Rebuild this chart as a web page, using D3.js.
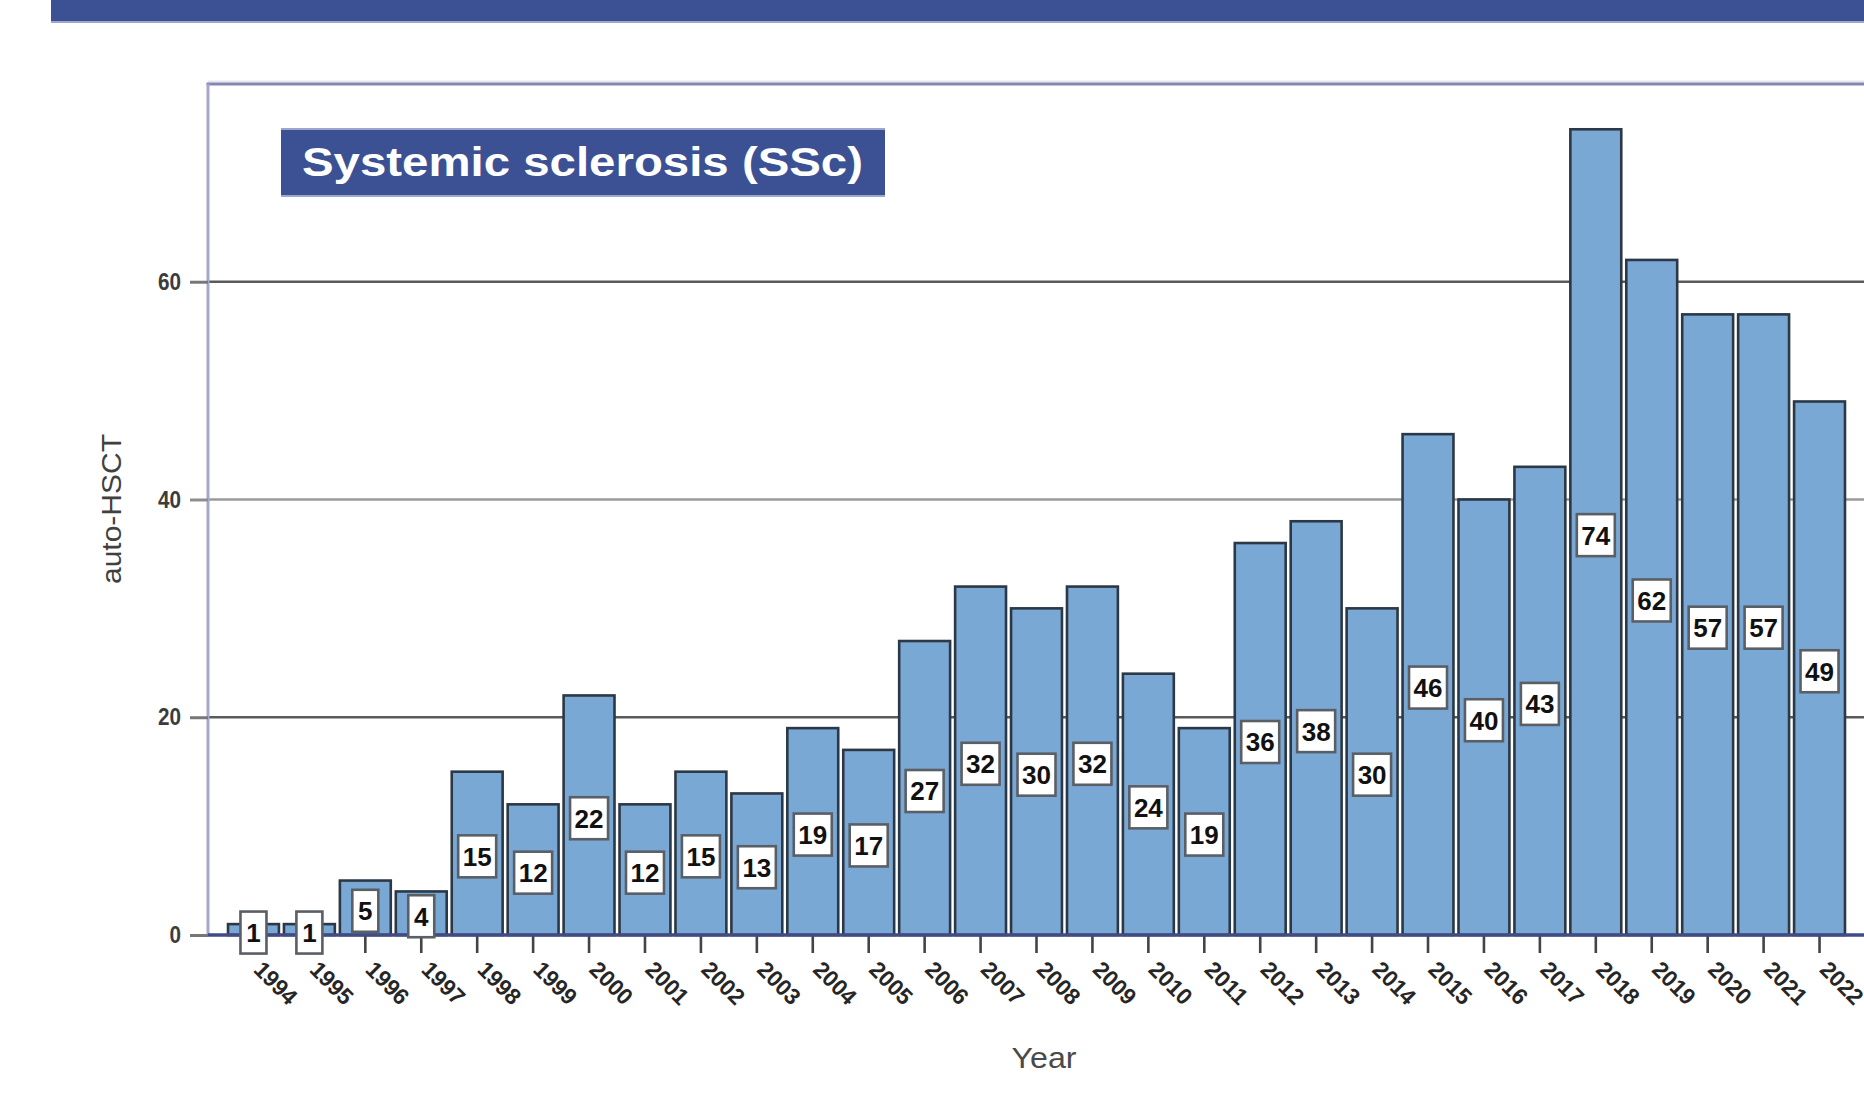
<!DOCTYPE html>
<html>
<head>
<meta charset="utf-8">
<script src="https://cdn.jsdelivr.net/npm/d3@7"></script>
<style>
  html, body { margin: 0; padding: 0; background: #ffffff; }
  svg { display: block; }
  text { font-family: "Liberation Sans", Arial, sans-serif; }
</style>
</head>
<body>
<svg id="chartSVG" width="1864" height="1097"></svg>
<script>
var years = ['1994', '1995', '1996', '1997', '1998', '1999', '2000', '2001', '2002', '2003',
  '2004', '2005', '2006', '2007', '2008', '2009', '2010', '2011', '2012', '2013',
  '2014', '2015', '2016', '2017', '2018', '2019', '2020', '2021', '2022'];
var counts = [1, 1, 5, 4, 15, 12, 22, 12, 15, 13, 19, 17, 27, 32, 30, 32, 24, 19, 36, 38,
  30, 46, 40, 43, 74, 62, 57, 57, 49];
var yTicks = [0, 20, 40, 60];
var chartTitle = 'Systemic sclerosis (SSc)';
var yTitle = 'auto-HSCT';
var xTitle = 'Year';

var data = years.map(function(d, i) { return { key: d, value: counts[i] }; });

var svg = d3.select("#chartSVG");
var width = 1864;

// frame of the plot
var frame = { left: 208, top: 84, bottom: 935 };

var xScale = d3.scaleBand()
  .domain(years)
  .range([225.5, 1847.5])
  .paddingInner(0.09)
  .paddingOuter(0.045);

var yScale = d3.scaleLinear()
  .domain([0, 80])
  .range([frame.bottom, frame.bottom - 80 * 10.888]);

// top banner
svg.append("rect")
  .attr("x", 51).attr("y", 0)
  .attr("width", width - 51).attr("height", 23)
  .attr("fill", "#9ea7cb");
svg.append("rect")
  .attr("x", 51).attr("y", 0)
  .attr("width", width - 51).attr("height", 21)
  .attr("fill", "#3b5194");

// gridlines
svg.append("g")
  .selectAll("line")
  .data(yTicks.filter(function(d) { return d > 0; }))
  .enter()
  .append("line")
  .attr("x1", frame.left).attr("x2", width)
  .attr("y1", function(d) { return yScale(d); })
  .attr("y2", function(d) { return yScale(d); })
  .attr("stroke", function(d) { return d === 40 ? "#9a9a9a" : "#5a5a5a"; })
  .attr("stroke-width", 2.6);

// frame lines
svg.append("line")
  .attr("x1", frame.left).attr("x2", width)
  .attr("y1", frame.top - 2.5).attr("y2", frame.top - 2.5)
  .attr("stroke", "#e6e6ef").attr("stroke-width", 2);
svg.append("line")
  .attr("x1", frame.left - 1.5).attr("x2", width)
  .attr("y1", frame.top).attr("y2", frame.top)
  .attr("stroke", "#8785b3").attr("stroke-width", 3);
svg.append("line")
  .attr("x1", frame.left).attr("x2", frame.left)
  .attr("y1", frame.top).attr("y2", frame.bottom)
  .attr("stroke", "#a5a7cc").attr("stroke-width", 3);

// y axis
var yAxis = d3.axisLeft(yScale)
  .tickValues(yTicks)
  .tickSize(18)
  .tickPadding(9);

var yAxisG = svg.append("g")
  .attr("transform", translate(frame.left, 0))
  .call(yAxis);
yAxisG.select(".domain").remove();
yAxisG.selectAll(".tick line")
  .attr("stroke", function(d) { return d === 40 ? "#8d8d8d" : "#777777"; })
  .attr("stroke-width", 3);
yAxisG.selectAll(".tick text")
  .attr("font-size", 24)
  .attr("font-weight", "bold")
  .attr("fill", "#3c3c3c")
  .attr("textLength", function(d) { return String(d).length * 11.5; })
  .attr("lengthAdjust", "spacingAndGlyphs");

// title box
var titleG = svg.append("g");
titleG.append("rect")
  .attr("x", 281).attr("y", 128)
  .attr("width", 604).attr("height", 69)
  .attr("fill", "#9ea7cb");
titleG.append("rect")
  .attr("x", 281).attr("y", 130)
  .attr("width", 604).attr("height", 65)
  .attr("fill", "#3b5194");
titleG.append("text")
  .attr("x", 302).attr("y", 176)
  .attr("font-size", 41)
  .attr("font-weight", "bold")
  .attr("font-family", "'Open Sans', 'DejaVu Sans', sans-serif")
  .attr("fill", "#ffffff")
  .attr("textLength", 561)
  .attr("lengthAdjust", "spacingAndGlyphs")
  .text(chartTitle);

// bars
var plot = svg.append("g");
plot.selectAll(".bar")
  .data(data, function(d) { return d.key; })
  .enter()
  .append("rect")
  .attr("class", "bar")
  .attr("x", function(d) { return xScale(d.key); })
  .attr("width", xScale.bandwidth())
  .attr("y", function(d) { return yScale(d.value); })
  .attr("height", function(d) { return frame.bottom - yScale(d.value); })
  .attr("fill", "#7aa8d5")
  .attr("stroke", "#2c3845")
  .attr("stroke-width", 2.6);

// x axis
var xAxis = d3.axisBottom(xScale)
  .tickSize(18)
  .tickFormat("");
var xAxisG = svg.append("g")
  .attr("transform", translate(0, frame.bottom))
  .call(xAxis);
xAxisG.select(".domain").remove();
xAxisG.selectAll(".tick line")
  .attr("stroke", "#444444")
  .attr("stroke-width", 2.6);

svg.append("line")
  .attr("x1", frame.left).attr("x2", width)
  .attr("y1", frame.bottom).attr("y2", frame.bottom)
  .attr("stroke", "#414b84")
  .attr("stroke-width", 3.5);

// year labels
svg.append("g")
  .selectAll("text")
  .data(years)
  .enter()
  .append("text")
  .attr("transform", function(d) {
    return translate(xScale(d) + xScale.bandwidth() / 2 - 1, 971) + " rotate(45)";
  })
  .attr("font-size", 23)
  .attr("font-weight", "bold")
  .attr("fill", "#262626")
  .attr("text-anchor", "start")
  .attr("textLength", 50)
  .attr("lengthAdjust", "spacingAndGlyphs")
  .text(function(d) { return d; });

// value labels
var labels = svg.append("g")
  .selectAll("g")
  .data(data)
  .enter()
  .append("g")
  .attr("transform", function(d) {
    return translate(xScale(d.key) + xScale.bandwidth() / 2, yScale(d.value / 2) + 3);
  });

labels.append("rect")
  .attr("x", function(d) { return String(d.value).length > 1 ? -19 : -13; })
  .attr("y", -21)
  .attr("width", function(d) { return String(d.value).length > 1 ? 38 : 26; })
  .attr("height", 42)
  .attr("fill", "#ffffff")
  .attr("stroke", "#5a5f66")
  .attr("stroke-width", 2.6);

labels.append("text")
  .attr("text-anchor", "middle")
  .attr("dy", "0.36em")
  .attr("font-size", 26)
  .attr("font-weight", "bold")
  .attr("fill", "#111111")
  .text(function(d) { return d.value; });

// axis titles
svg.append("text")
  .attr("transform", translate(121, 509) + " rotate(-90)")
  .attr("text-anchor", "middle")
  .attr("font-size", 27)
  .attr("fill", "#404040")
  .attr("textLength", 150)
  .attr("lengthAdjust", "spacingAndGlyphs")
  .text(yTitle);

svg.append("text")
  .attr("x", 1044).attr("y", 1068)
  .attr("text-anchor", "middle")
  .attr("font-size", 30)
  .attr("fill", "#4a4a4a")
  .attr("textLength", 65)
  .attr("lengthAdjust", "spacingAndGlyphs")
  .text(xTitle);

function translate(x, y) {
  return "translate(" + x + "," + y + ")";
}
</script>
</body>
</html>
